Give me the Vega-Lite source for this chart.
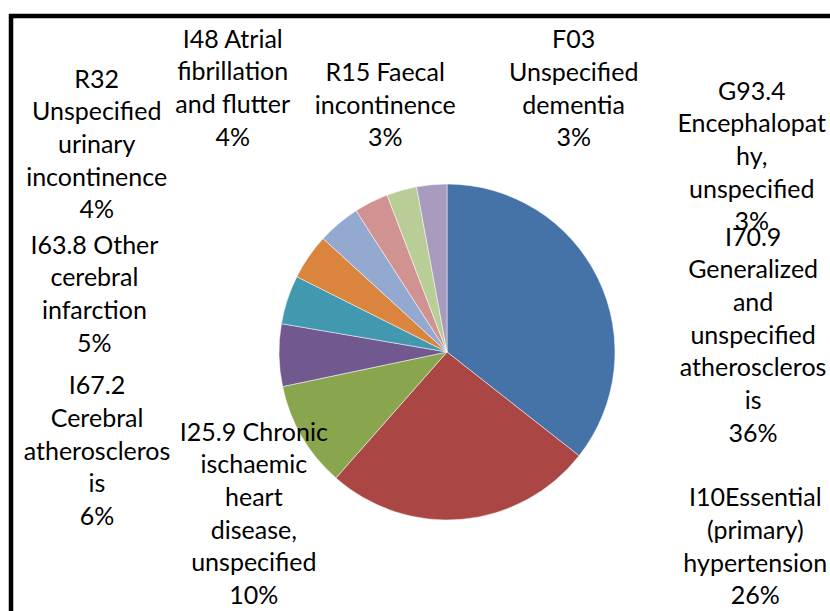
{
  "$schema": "https://vega.github.io/schema/vega-lite/v6.json",
  "width": 872,
  "height": 672,
  "padding": {"left": 11, "top": 16, "right": 0, "bottom": 0},
  "autosize": {"type": "none"},
  "background": "white",
  "data": {
    "values": [
      {"order": 1, "code": "I70.9", "label": "I70.9\nGeneralized\nand\nunspecified\natheroscleros\nis\n36%", "value": 35.6},
      {"order": 2, "code": "I10", "label": "I10Essential\n(primary)\nhypertension\n26%", "value": 25.9},
      {"order": 3, "code": "I25.9", "label": "I25.9 Chronic\nischaemic\nheart\ndisease,\nunspecified\n10%", "value": 10.2},
      {"order": 4, "code": "I67.2", "label": "I67.2\nCerebral\natheroscleros\nis\n6%", "value": 6.0},
      {"order": 5, "code": "I63.8", "label": "I63.8 Other\ncerebral\ninfarction\n5%", "value": 4.7},
      {"order": 6, "code": "R32", "label": "R32\nUnspecified\nurinary\nincontinence\n4%", "value": 4.4},
      {"order": 7, "code": "I48", "label": "I48 Atrial\nfibrillation\nand flutter\n4%", "value": 4.1},
      {"order": 8, "code": "R15", "label": "R15 Faecal\nincontinence\n3%", "value": 3.3},
      {"order": 9, "code": "F03", "label": "F03\nUnspecified\ndementia\n3%", "value": 2.9},
      {"order": 10, "code": "G93.4", "label": "G93.4\nEncephalopat\nhy,\nunspecified\n3%", "value": 2.9}
    ]
  },
  "layer": [
    {
      "data": {"values": [{}]},
      "mark": {"type": "rect", "fill": null, "stroke": "black", "strokeWidth": 4.5},
      "encoding": {}
    },
    {
      "encoding": {
        "theta": {"field": "value", "type": "quantitative", "stack": true},
        "order": {"field": "order", "type": "quantitative"}
      },
      "layer": [
        {
          "mark": {"type": "arc", "outerRadius": 168, "stroke": "white", "strokeWidth": 0.5},
          "encoding": {
            "color": {
              "field": "code",
              "type": "nominal",
              "scale": {
                "domain": ["I70.9", "I10", "I25.9", "I67.2", "I63.8", "R32", "I48", "R15", "F03", "G93.4"],
                "range": ["#4572A7", "#AA4643", "#89A54E", "#71588F", "#4198AF", "#DB843D", "#93A9CF", "#D19392", "#B9CD96", "#A99BBD"]
              },
              "legend": null
            }
          }
        },
        {
          "mark": {
            "type": "text",
            "radius": 168,
            "font": "Lato",
            "fontSize": 25,
            "lineHeight": 32.7,
            "lineBreak": "\n",
            "align": "center",
            "baseline": "middle",
            "color": "black",
            "dx": {"expr": "[155, 293, -48, -182, -193, -212, -106, 14, 172, 320][datum.order - 1]"},
            "dy": {"expr": "[-41, -21, -4, 31, -54, -177, -184, -129, -150, -93][datum.order - 1]"}
          },
          "encoding": {
            "text": {"field": "label"},
            "detail": {"field": "code"}
          }
        }
      ]
    }
  ]
}
